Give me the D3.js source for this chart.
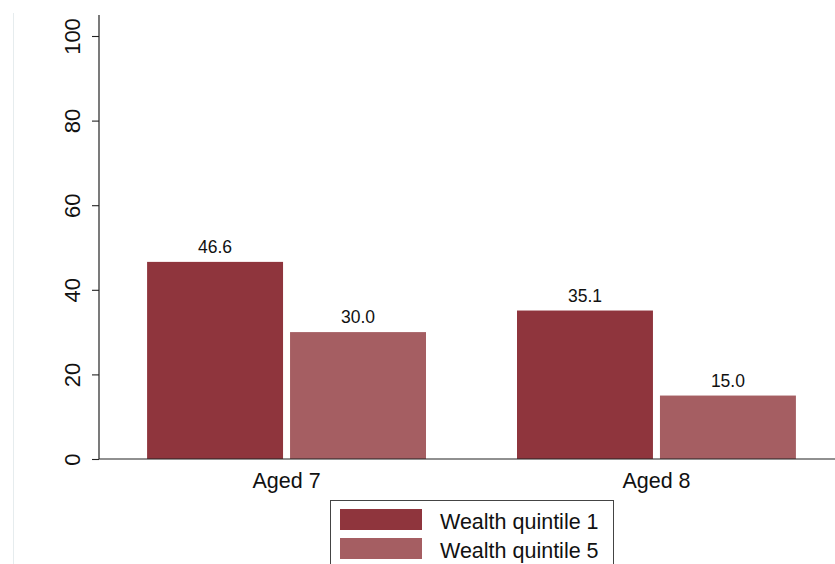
<!DOCTYPE html>
<html>
<head>
<meta charset="utf-8">
<script src="https://cdn.jsdelivr.net/npm/d3@7"></script>
<style>
  html, body { margin: 0; padding: 0; background: #fff; }
  svg { display: block; }
  svg text { font-family: "Liberation Sans", Arial, sans-serif; }
</style>
</head>
<body>
<svg id="chart" width="835" height="564"></svg>
<script>
// Chart data
const categories = ["Aged 7", "Aged 8"];
const seriesNames = ["Wealth quintile 1", "Wealth quintile 5"];
const quintile1 = [46.6, 35.1];
const quintile5 = [30.0, 15.0];
const yTicks = [0, 20, 40, 60, 80, 100];
const colors = ["#8f353d", "#a55e62"];

const seriesValues = [quintile1, quintile5];
const rows = categories.map((c, i) => ({
  category: c,
  values: seriesNames.map((s, j) => ({ series: s, value: seriesValues[j][i], idx: j }))
}));

const svg = d3.select("#chart");
const W = 835, H = 564;
const axisX = 99, y0 = 459, yTop = 36;
const FONT = "Liberation Sans, Arial, sans-serif";

// faint frame line at the left edge
svg.append("line")
  .attr("x1", 13.5).attr("x2", 13.5).attr("y1", 13).attr("y2", H)
  .attr("stroke", "#e6ecee").attr("stroke-width", 1);

const y = d3.scaleLinear().domain([0, 100]).range([y0, yTop]);

const x0 = d3.scaleBand().domain(categories)
  .range([axisX, 844]).paddingInner(0.246).paddingOuter(0.13);
const x1 = d3.scaleBand().domain(seriesNames)
  .range([0, x0.bandwidth()]).paddingInner(0.049);

// bars
const groups = svg.append("g").selectAll("g").data(rows).join("g")
  .attr("transform", d => `translate(${x0(d.category)},0)`);

groups.selectAll("rect").data(d => d.values).join("rect")
  .attr("x", d => x1(d.series))
  .attr("y", d => y(d.value))
  .attr("width", x1.bandwidth())
  .attr("height", d => y0 - y(d.value))
  .attr("fill", d => colors[d.idx]);

groups.selectAll("text.val").data(d => d.values).join("text")
  .attr("class", "val")
  .attr("x", d => x1(d.series) + x1.bandwidth() / 2)
  .attr("y", d => y(d.value) - 9)
  .attr("text-anchor", "middle")
  .attr("font-size", 17.5)
  .attr("fill", "#111")
  .text(d => d.value.toFixed(1));

// y axis
const yAxis = d3.axisLeft(y).tickValues(yTicks).tickSize(7).tickSizeOuter(0).tickFormat(d3.format("d"));
const yg = svg.append("g").attr("transform", `translate(${axisX},0)`).call(yAxis)
  .attr("font-family", FONT);
yg.select(".domain").remove();
yg.append("line").attr("x1", 0).attr("x2", 0).attr("y1", 15).attr("y2", y0)
  .attr("stroke", "#222").attr("stroke-width", 1.2);
yg.selectAll(".tick line").attr("stroke", "#222").attr("stroke-width", 1.1);
yg.selectAll(".tick text")
  .attr("x", null).attr("dy", null)
  .attr("transform", "translate(-19,0) rotate(-90)")
  .attr("text-anchor", "middle")
  .attr("font-size", 22)
  .attr("fill", "#111");

// x axis
const xAxis = d3.axisBottom(x0).tickSize(0);
const xg = svg.append("g").attr("transform", `translate(0,${y0})`).call(xAxis)
  .attr("font-family", FONT);
xg.select(".domain").remove();
xg.append("line").attr("x1", axisX).attr("x2", W).attr("y1", 0).attr("y2", 0)
  .attr("stroke", "#222").attr("stroke-width", 1.2);
xg.selectAll(".tick text")
  .attr("y", 29).attr("dy", null)
  .attr("font-size", 21.5)
  .attr("fill", "#111");

// legend
const legend = svg.append("g");
legend.append("rect")
  .attr("x", 330.5).attr("y", 500.5).attr("width", 283).attr("height", 80)
  .attr("fill", "#fff").attr("stroke", "#444").attr("stroke-width", 1);
const items = legend.selectAll("g").data(seriesNames).join("g")
  .attr("transform", (d, i) => `translate(340,${509 + i * 29})`);
items.append("rect").attr("width", 82).attr("height", 21)
  .attr("fill", (d, i) => colors[i]);
items.append("text").attr("x", 100).attr("y", 20)
  .attr("font-size", 21.5).attr("fill", "#111")
  .text(d => d);
</script>
</body>
</html>
